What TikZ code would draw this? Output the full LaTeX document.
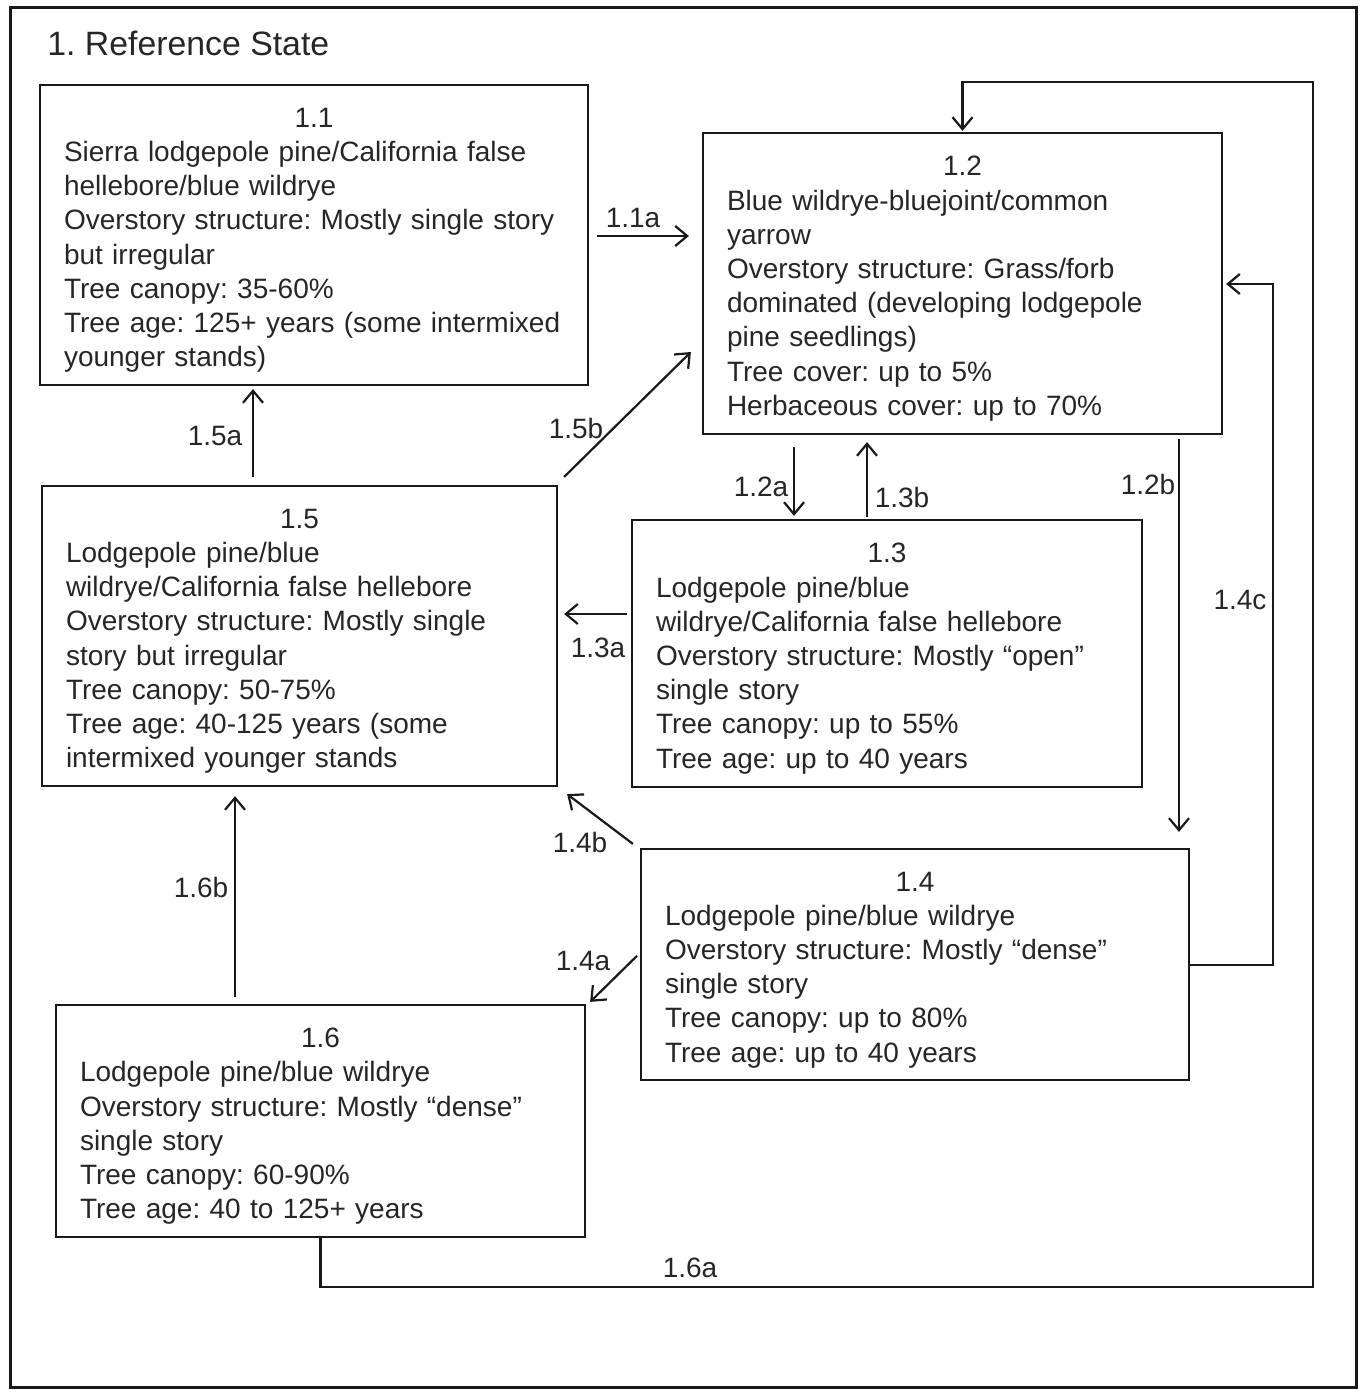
\documentclass[tikz,border=0pt]{standalone}
\usepackage{fontspec}
\setmainfont{Liberation Sans}
\usetikzlibrary{arrows.meta,calc}
\frenchspacing
\hyphenpenalty=10000
\begin{document}
\begin{tikzpicture}[x=0.5pt,y=-0.5pt,font=\fontsize{14}{17.1}\selectfont]
\tikzset{trans/.style={-{Straight Barb[length=6pt,width=10pt]},line width=1.1pt,black!90}}
\tikzstyle{state}=[draw=black!90,rectangle,line width=1.1pt,align=left,inner xsep=12pt,inner ysep=0pt,text=black!85]
\tikzstyle{lbl}=[inner sep=0pt,text=black!85]
\newcommand{\stnum}[1]{{\centering\rule{0pt}{15pt}#1\par}}
\useasboundingbox (0,0) rectangle (1363,1390);
\draw[line width=1.5pt,black!90] (10,8) rectangle (1356,1387);
\node[anchor=west,inner sep=0pt,text=black!85,font=\fontsize{16.9}{20}\selectfont] (title)at(47,43){1. Reference State};
% states
\node[state,text width=250pt,minimum height=150pt] (s11)at(314,235){\stnum{1.1}Sierra lodgepole pine/California false\\hellebore/blue wildrye\\Overstory structure: Mostly single story\\but irregular\\Tree canopy: 35-60\%\\Tree age: 125+ years (some intermixed\\younger stands)};
\node[state,text width=235.5pt,minimum height=150.5pt] (s12)at(962.5,283.5){\stnum{1.2}Blue wildrye-bluejoint/common\\yarrow\\Overstory structure: Grass/forb\\dominated (developing lodgepole\\pine seedlings)\\Tree cover: up to 5\%\\Herbaceous cover: up to 70\%};
\node[state,text width=231pt,minimum height=133.5pt] (s13)at(887,653.5){\stnum{1.3}Lodgepole pine/blue\\wildrye/California false hellebore\\Overstory structure: Mostly “open”\\single story\\Tree canopy: up to 55\%\\Tree age: up to 40 years};
\node[state,text width=233.5pt,minimum height=150pt] (s15)at(299.5,636){\stnum{1.5}Lodgepole pine/blue\\wildrye/California false hellebore\\Overstory structure: Mostly single\\story but irregular\\Tree canopy: 50-75\%\\Tree age: 40-125 years (some\\intermixed younger stands};
\node[state,text width=250pt,minimum height=115.5pt] (s14)at(915,964.5){\stnum{1.4}Lodgepole pine/blue wildrye\\Overstory structure: Mostly “dense”\\single story\\Tree canopy: up to 80\%\\Tree age: up to 40 years};
\node[state,text width=240.5pt,minimum height=116pt] (s16)at(320.5,1121){\stnum{1.6}Lodgepole pine/blue wildrye\\Overstory structure: Mostly “dense”\\single story\\Tree canopy: 60-90\%\\Tree age: 40 to 125+ years};
% transition labels
\node[lbl] (l11a)at(633,218){1.1a};
\node[lbl] (l15b)at(576,428){1.5b};
\node[lbl] (l15a)at(215,436){1.5a};
\node[lbl] (l12a)at(761,487){1.2a};
\node[lbl] (l13b)at(902,497){1.3b};
\node[lbl] (l12b)at(1148,484){1.2b};
\node[lbl] (l14c)at(1240,600){1.4c};
\node[lbl] (l13a)at(598,648){1.3a};
\node[lbl] (l14b)at(580,842){1.4b};
\node[lbl] (l14a)at(583,961){1.4a};
\node[lbl] (l16b)at(201,887){1.6b};
\node[lbl] (l16a)at(690,1268){1.6a};
% transitions
\draw[trans,shorten <=4pt,shorten >=6.5pt] (s11.east|-0,236)--(s12.west|-0,236);
\draw[trans] ($(s15.north east)+(6,-8)$)--($(s12.west|-0,352)+(-11,0)$);
\draw[trans,shorten <=4pt,shorten >=1.5pt] (253,0|-s15.north)--(253,0|-s11.south);
\draw[trans,shorten <=6pt,shorten >=1.5pt] (794,0|-s12.south)--(794,0|-s13.north);
\draw[trans,shorten <=1pt,shorten >=3.5pt] (867,0|-s13.north)--(867,0|-s12.south);
\draw[trans,shorten <=2pt,shorten >=8pt] (1179,0|-s12.south)--(1179,0|-s14.north);
\draw[trans,shorten >=1.5pt] (s14.east|-0,965) -| (1273,284) -- (s12.east|-0,284);
\draw[trans,shorten >=0.5pt] (s16.south) |- (1313,1287) |- (s12.north|-0,82) -- (s12.north);
\draw[trans,shorten <=2pt,shorten >=3pt] (s13.west|-0,614)--(s15.east|-0,614);
\draw[trans] ($(s14.north west)+(-7,-4)$)--($(s15.south east)+(9,7)$);
\draw[trans,shorten <=2pt] (s14.west|-0,953)--($(s16.north east)+(4,-2)$);
\draw[trans,shorten <=3.5pt,shorten >=4.5pt] (235,0|-s16.north)--(235,0|-s15.south);
\end{tikzpicture}
\end{document}
